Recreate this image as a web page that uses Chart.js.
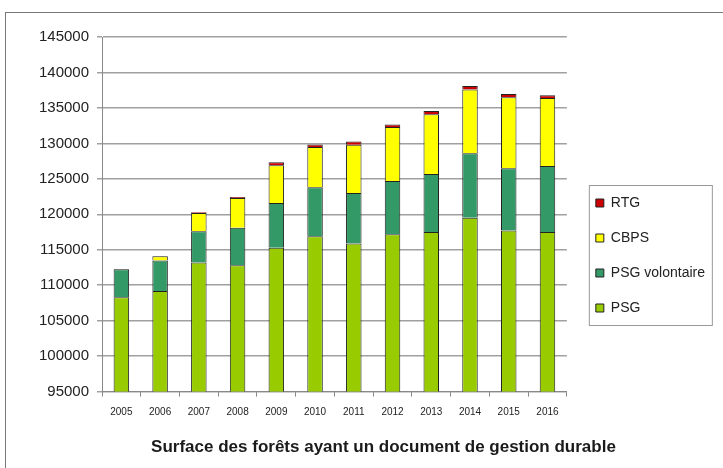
<!DOCTYPE html>
<html>
<head>
<meta charset="utf-8">
<script src="https://cdn.jsdelivr.net/npm/chart.js@4/dist/chart.umd.min.js"></script>
<style>
  body { margin: 0; background: #fff; }
  #wrap { position: relative; width: 723px; height: 468px; overflow: hidden; }
  #frame { position: absolute; left: 5px; top: 12px; width: 740px; height: 480px; border: 1px solid #777; }
  canvas { position: absolute; left: 0; top: 0; }
</style>
</head>
<body>
<div id="wrap">
  <div id="frame"></div>
  <canvas id="chart" width="723" height="468"></canvas>
</div>
<script>
// values (hectares)
const years = ["2005", "2006", "2007", "2008", "2009", "2010", "2011", "2012", "2013", "2014", "2015", "2016"];
const psg = [108300, 109200, 113200, 112800, 115300, 116900, 115900, 117200, 117500, 119500, 117700, 117500];
const psgVolontaire = [3950, 4300, 4400, 5300, 6300, 6900, 7100, 7500, 8200, 9100, 8800, 9300];
const cbps = [0, 600, 2600, 4200, 5300, 5700, 6800, 7600, 8400, 9000, 10000, 9600];
const rtg = [30, 30, 100, 150, 450, 350, 450, 350, 450, 500, 450, 400];
const yTicks = [95000, 100000, 105000, 110000, 115000, 120000, 125000, 130000, 135000, 140000, 145000];

const font = "'Liberation Sans', Arial, sans-serif";

// nudges the legend and title to where the original has them, and frames the legend
const layoutTweaks = {
  id: "layoutTweaks",
  afterLayout(chart) {
    const lg = chart.legend;
    lg.left = chart.chartArea.right + 8;
    lg.top = 175;
    chart.titleBlock.left += 30;
    chart.titleBlock.right += 30;
  },
  afterDraw(chart) {
    const lg = chart.legend;
    const ctx = chart.ctx;
    ctx.save();
    ctx.strokeStyle = "#999";
    ctx.lineWidth = 1;
    ctx.strokeRect(lg.left + 14.5, lg.top + 10.5, 123, 140);
    ctx.restore();
  }
};

const ds = (label, data, color) => ({
  label: label,
  data: data,
  backgroundColor: color,
  borderColor: "#222",
  borderWidth: 1,
  barPercentage: 0.4,
  categoryPercentage: 1
});

new Chart(document.getElementById("chart"), {
  type: "bar",
  data: {
    labels: years,
    datasets: [
      ds("PSG", psg, "#99cc00"),
      ds("PSG volontaire", psgVolontaire, "#339966"),
      ds("CBPS", cbps, "#ffff00"),
      ds("RTG", rtg, "#cc0000")
    ]
  },
  options: {
    responsive: false,
    animation: false,
    layout: { padding: { left: 0, right: 16, top: 37, bottom: 0 } },
    scales: {
      x: {
        stacked: true,
        grid: { drawOnChartArea: false, color: "#888", tickLength: 5 },
        border: { color: "#888" },
        ticks: { color: "#222", font: { family: font, size: 10 }, padding: 10 }
      },
      y: {
        stacked: true,
        min: 95000,
        max: 145000,
        afterFit: (scale) => { scale.width = 102; },
        afterBuildTicks: (scale) => { scale.ticks = yTicks.map((v) => ({ value: v })); },
        grid: { color: "#a0a0a0", lineWidth: 1.5, tickLength: 5 },
        border: { color: "#888" },
        ticks: {
          color: "#222",
          font: { family: font, size: 15 },
          padding: 8,
          callback: (v) => String(v)
        }
      }
    },
    plugins: {
      legend: {
        position: "right",
        align: "start",
        reverse: true,
        labels: {
          boxWidth: 8,
          boxHeight: 8,
          padding: 21,
          color: "#222",
          font: { family: font, size: 14 }
        }
      },
      title: {
        display: true,
        position: "bottom",
        text: "Surface des forêts ayant un document de gestion durable",
        color: "#1a1a1a",
        font: { family: font, size: 17, weight: "bold" },
        padding: { top: 9, bottom: 10 }
      },
      tooltip: { enabled: false }
    }
  },
  plugins: [layoutTweaks]
});
</script>
</body>
</html>
